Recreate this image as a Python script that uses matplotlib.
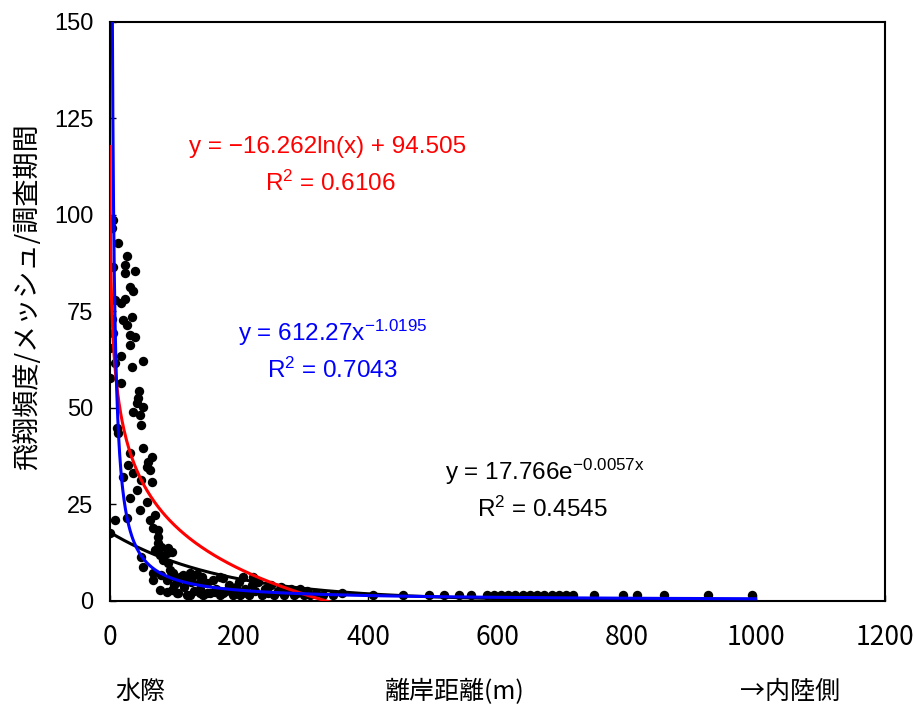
import numpy as np
import matplotlib
matplotlib.use('Agg')
import matplotlib.pyplot as plt
from matplotlib import font_manager

plt.rcParams['font.family'] = ['Noto Sans CJK JP', 'DejaVu Sans']
plt.rcParams['mathtext.fontset'] = 'custom'
plt.rcParams['mathtext.rm'] = 'Liberation Sans'
plt.rcParams['mathtext.it'] = 'Liberation Sans'
plt.rcParams['axes.unicode_minus'] = True

# 観測データ (離岸距離 m, 飛翔頻度)
kyori = [5, 3, 12, 26, 23, 5, 39, 23, 31, 36, 8, 23, 18, 3, 20, 34, 26, 31, 39,
         5, 31, 0, 18, 51, 34, 8, 0, 18, 45, 43, 42, 51, 36, 46, 49, 11, 12,
         51, 31, 65, 59, 57, 62, 28, 36, 20, 49, 65, 42, 31, 57, 46, 70, 8, 26,
         62, 67, 74, 0, 74, 74, 80, 90, 70, 77, 88, 96, 49, 82, 90, 51, 93, 67,
         80, 98, 113, 124, 67, 88, 104, 119, 139, 77, 88, 96, 104, 124, 139,
         150, 163, 175, 190, 201, 212, 108, 128, 142, 170, 206, 221,
         95, 100, 105, 110, 115, 120, 125, 130, 135, 140, 145, 150, 155, 160,
         165, 170, 175, 180, 185, 190, 195, 200, 205, 210, 215, 220, 225, 230,
         235, 240, 245, 250, 255, 260, 265, 270, 275, 280, 285, 290, 295, 300,
         305, 310, 320, 330, 345, 360,
         407, 454, 495, 517, 540, 560, 584, 595, 605, 617, 628, 640, 650, 661,
         672, 684, 695, 706, 717, 749, 794, 816, 858, 927, 995]
hindo = [98.7, 96.6, 92.7, 89.4, 87, 86.5, 85.5, 85, 81.3, 80.3, 78, 78.2, 77.2,
         73, 72.8, 73.6, 71.5, 69, 68.4, 69.4, 66.3, 65.5, 63.5, 62.2, 60.6,
         61.7, 57.8, 56.5, 54.4, 52.6, 51.3, 50.3, 49, 48.2, 45.6, 44.8, 43.5,
         39.6, 38.3, 37.3, 36, 34.7, 33.9, 35.2, 33.2, 32, 31.3, 30.8, 28.8,
         26.7, 25.6, 23.6, 22.3, 21, 21.5, 21, 18.9, 18.4, 17.6, 16.6, 15, 14,
         13.7, 13.2, 11.9, 12.4, 12.7, 11.4, 10.6, 9.8, 8.8, 8, 7.3, 6.7, 7.3,
         6.7, 7.3, 5.4, 5.4, 4.9, 5.4, 4.9, 2.8, 2.3, 2.8, 2, 1.6, 2, 2, 2.3,
         2, 2.3, 1.6, 2, 6.2, 6.2, 6.2, 6.2, 6.2, 6.2,
         6.5, 4, 2, 6, 3.5, 1.5, 5, 2.5, 7, 3, 1.5, 4.5, 2, 5.5, 3, 1.5, 6,
         2.5, 4, 1.5, 3.5, 5, 2, 3, 1.5, 4, 2.5, 5, 1.5, 3, 2, 4, 1.5, 2.5,
         3.5, 1.5, 2.5, 3, 1.5, 2, 3, 1.5, 2.5, 1.5, 2, 1.5, 1.5, 2,
         1.4, 1.4, 1.4, 1.4, 1.4, 1.4, 1.4, 1.4, 1.4, 1.4, 1.4, 1.4, 1.4, 1.4,
         1.4, 1.4, 1.4, 1.4, 1.4, 1.4, 1.4, 1.4, 1.4, 1.4, 1.4]

# 近似曲線の係数 (グラフ中の式)
exp_a, exp_b = 17.766, -0.0057
log_a, log_b = -16.262, 94.505
pow_a, pow_b = 612.27, -1.0195

x_min, x_max = 0.24, 1000
xs = np.concatenate([np.geomspace(x_min, 20, 200), np.linspace(20, x_max, 500)])

fig = plt.figure(figsize=(9.15, 7.06), dpi=100)
ax = fig.add_axes([0.120, 0.149, 0.847, 0.820])

ax.scatter(kyori, hindo, s=46, color='black', zorder=2, linewidths=0)
ax.plot(xs, exp_a * np.exp(exp_b * xs), color='black', lw=2.2, zorder=3)
ax.plot(xs, log_a * np.log(xs) + log_b, color='red', lw=2.2, zorder=4)
ax.plot(xs, pow_a * xs ** pow_b, color='blue', lw=2.2, zorder=5)

ax.set_xlim(0, 1200)
ax.set_ylim(0, 150)
ax.set_xticks([0, 200, 400, 600, 800, 1000, 1200])
ax.set_yticks([0, 25, 50, 75, 100, 125, 150])
ax.tick_params(direction='in', length=4, width=1)
for s in ax.spines.values():
    s.set_linewidth(1.5)

try:
    font_manager.findfont('Liberation Sans Narrow', fallback_to_default=False)
    xfam = 'Liberation Sans Narrow'
except Exception:
    xfam = 'Noto Sans CJK JP'
ax.tick_params(axis='x', pad=17)
ax.tick_params(axis='y', pad=12)
for lab in ax.get_xticklabels():
    lab.set_fontfamily(xfam)
    lab.set_fontsize(19)
for lab in ax.get_yticklabels():
    lab.set_fontfamily('Liberation Sans')
    lab.set_fontsize(17)

ax.set_ylabel('飛翔頻度/メッシュ/調査期間', fontsize=19.5)
ax.yaxis.set_label_coords(-0.088, 0.525)

fig.text(0.153, 0.02, '水際', fontsize=18, ha='center', va='center')
fig.text(0.497, 0.02, '離岸距離(m)', fontsize=18, ha='center', va='center')
fig.text(0.863, 0.02, '→内陸側', fontsize=18, ha='center', va='center')

tf = dict(fontsize=17.5, ha='center', va='center', family='Liberation Sans')
ax.text(337, 117.6, 'y = \u221216.262ln(x) + 94.505', color='red', **tf)
ax.text(341, 108.3, 'R$^{2}$ = 0.6106', color='red', **tf)
ax.text(345, 69.4, 'y = 612.27x$^{\u22121.0195}$', color='blue', **tf)
ax.text(345, 59.8, 'R$^{2}$ = 0.7043', color='blue', **tf)
ax.text(673, 33.4, 'y = 17.766e$^{\u22120.0057x}$', color='black', **tf)
ax.text(670, 23.6, 'R$^{2}$ = 0.4545', color='black', **tf)

fig.savefig('out.png', dpi=100)
